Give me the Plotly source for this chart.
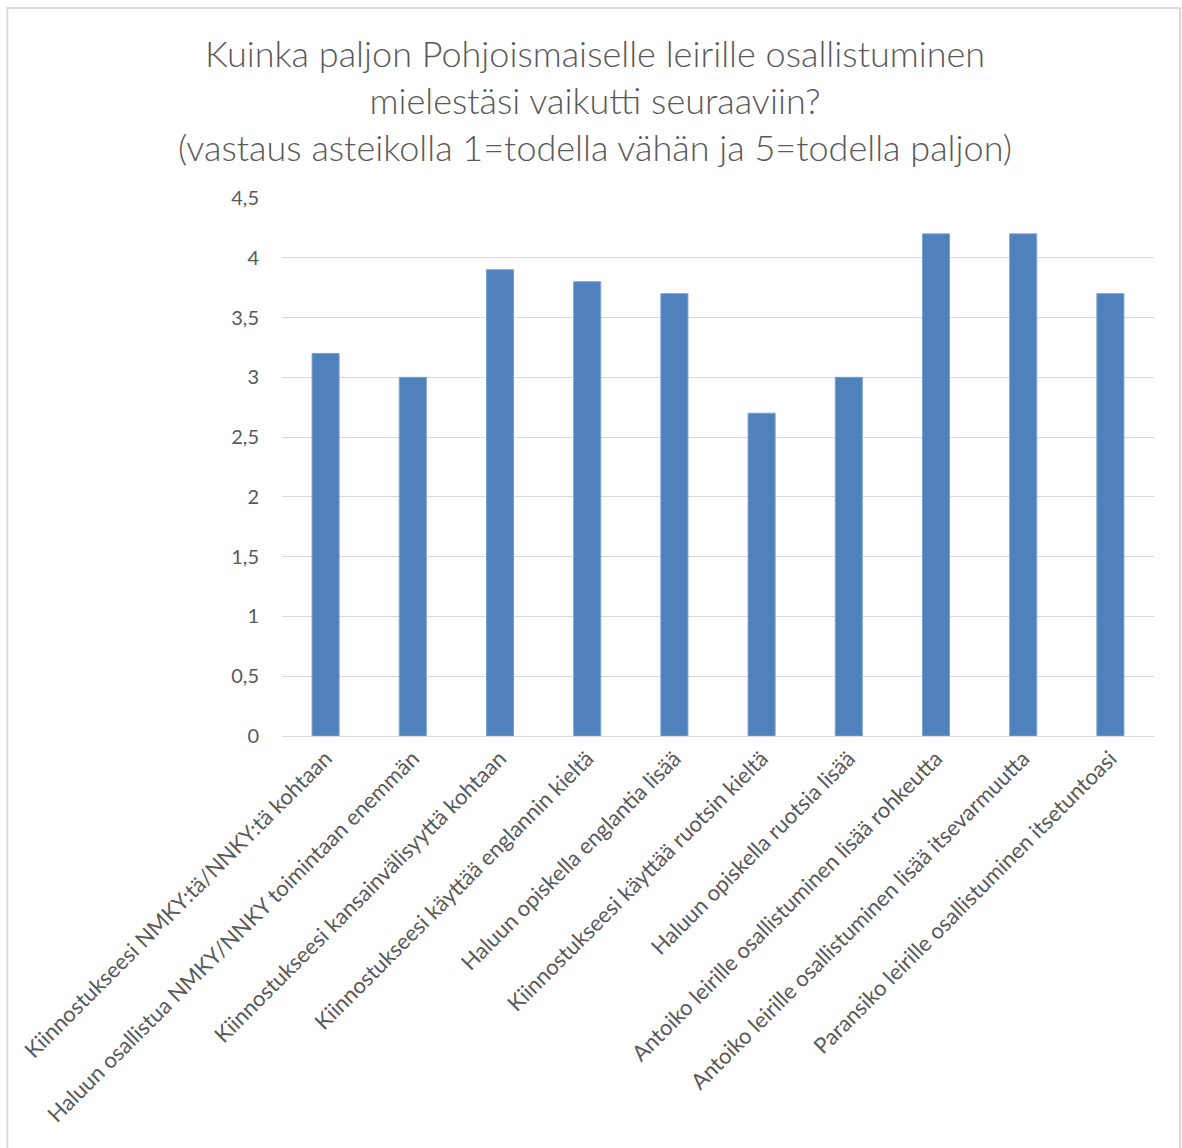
import plotly.graph_objects as go

# kysymykset ja keskiarvot (asteikko 1-5)
kysymykset = [
    'Kiinnostukseesi NMKY:tä/NNKY:tä kohtaan',
    'Haluun osallistua NMKY/NNKY toimintaan enemmän',
    'Kiinnostukseesi kansainvälisyyttä kohtaan',
    'Kiinnostukseesi käyttää englannin kieltä',
    'Haluun opiskella englantia lisää',
    'Kiinnostukseesi käyttää ruotsin kieltä',
    'Haluun opiskella ruotsia lisää',
    'Antoiko leirille osallistuminen lisää rohkeutta',
    'Antoiko leirille osallistuminen lisää itsevarmuutta',
    'Paransiko leirille osallistuminen itsetuntoasi',
]
keskiarvot = [3.2, 3.0, 3.9, 3.8, 3.7, 2.7, 3.0, 4.2, 4.2, 3.7]
y_tikit = [0, 0.5, 1, 1.5, 2, 2.5, 3, 3.5, 4, 4.5]

otsikko = ('Kuinka paljon Pohjoismaiselle leirille osallistuminen<br>'
           'mielestäsi vaikutti seuraaviin?<br>'
           '(vastaus asteikolla 1=todella vähän ja 5=todella paljon)')

fig = go.Figure(data=[go.Bar(x=kysymykset, y=keskiarvot,
                             marker=dict(color='#4F81BD', line=dict(color='#7BA0CD', width=1)),
                             width=0.31)])

fig.update_layout(
    width=1182, height=1148,
    margin=dict(l=282, r=28, t=198, b=412),
    separators=', ',
    font=dict(family='Lato, Open Sans, sans-serif', color='#595959', size=20),
    title=dict(text=otsikko, x=0.5034, xanchor='center', y=0.9414, yanchor='top',
               font=dict(size=36, color='#595959', weight=300)),
    paper_bgcolor='white',
    plot_bgcolor='white',
    showlegend=False,
)

fig.update_yaxes(range=[0, 4.5], tickvals=y_tikit, showgrid=True, gridcolor='#d9d9d9',
                 gridwidth=1, zeroline=False, showline=False, ticks='',
                 ticklabelstandoff=22, tickfont=dict(size=20))
fig.update_xaxes(tickangle=-45, showline=True, linecolor='#d9d9d9', ticks='',
                 tickfont=dict(size=22))

# kehys koko kaavion ympärille
fig.add_shape(type='rect', xref='paper', yref='paper',
              x0=-0.315, x1=1.030, y0=-0.8, y1=1.353,
              line=dict(color='#d9d9d9', width=2))

# poistetaan sivun oletusmarginaali, jotta kuva alkaa vasemmasta yläkulmasta
fig.write_html("out.html", config={'displayModeBar': False},
               post_script="document.body.style.margin='0';")
